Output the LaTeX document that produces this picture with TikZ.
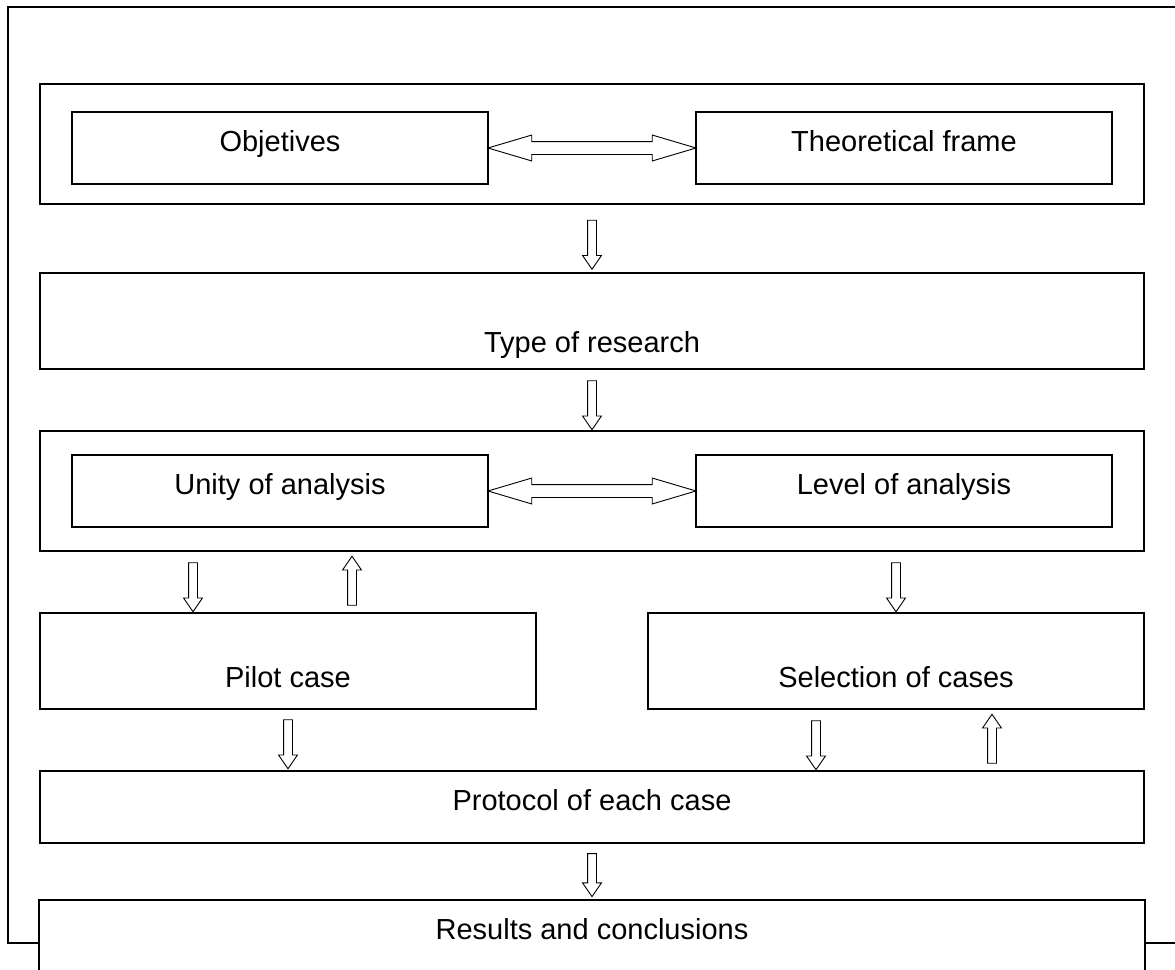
\documentclass[tikz,border=0pt]{standalone}
\usepackage{fontspec}
\setmainfont{Liberation Sans}
\usetikzlibrary{shapes.arrows, calc}

\begin{document}
\begin{tikzpicture}[x=1pt, y=-1pt,
    box/.style={draw, line width=1.6pt, inner sep=0pt, fill=white,
        text height=20pt, text depth=13pt, font=\fontsize{29}{34}\selectfont},
    low/.style={text height=#1, text depth=0pt},
    downarrow/.style={draw, line width=0.9pt, single arrow, rotate=-90,
        inner xsep=0pt, inner ysep=4pt, text height=0pt, text depth=0pt,
        minimum height=49, single arrow head extend=5, single arrow tip angle=69},
    uparrow/.style={downarrow, rotate=180},
    bothways/.style={draw, line width=0.9pt, double arrow,
        inner xsep=0pt, inner ysep=6pt, text height=0pt, text depth=0pt,
        minimum height=208, double arrow head extend=6.5, double arrow tip angle=33}]
    \useasboundingbox (0,0) rectangle (1175,969);
    \clip (0,0) rectangle (1175,969);
    % outer frame
    \draw[line width=1.6pt] (8,7) rectangle (1200,943);
    % first group
    \node[box, minimum width=1104, minimum height=120] (grp1) at (592,144) {};
    \node[box, minimum width=416, minimum height=72] (obj) at (280,148) {Objetives};
    \node[box, minimum width=416, minimum height=72] (theo) at (904,148) {Theoretical frame};
    \node[bothways] (d1) at ($(obj.east)!0.5!(theo.west)$) {};
    \node[box, low=62pt, minimum width=1104, minimum height=96] (type) at (592,321) {Type of research};
    % second group
    \node[box, minimum width=1104, minimum height=120] (grp2) at (592,491) {};
    \node[box, minimum width=416, minimum height=72] (unity) at (280,491) {Unity of analysis};
    \node[box, minimum width=416, minimum height=72] (level) at (904,491) {Level of analysis};
    \node[bothways] (d2) at ($(unity.east)!0.5!(level.west)$) {};
    \node[box, low=52pt, minimum width=496, minimum height=96] (pilot) at (288,661) {Pilot case};
    \node[box, low=52pt, minimum width=496, minimum height=96] (sel) at (896,661) {Selection of cases};
    \node[box, minimum width=1104, minimum height=72] (prot) at (592,807) {Protocol of each case};
    \node[box, draw=none, low=21pt, minimum width=1104, minimum height=56, anchor=north] (res) at (592,900) {Results and conclusions};
    \draw[line width=1.6pt] ([yshift=-30pt]res.south west) -- (res.north west)
        -- (res.north east) -- ([yshift=-30pt]res.south east);
    % block arrows
    \node[downarrow] (t1) at ($(grp1.south)!0.5!(type.north)+(0,3)$) {};
    \node[downarrow] (t2) at ($(type.south)!0.5!(grp2.north)+(0,2)$) {};
    \node[downarrow] (t3) at (193,584) {};
    \node[uparrow] (t4) at (352,584) {};
    \node[downarrow] (t5) at (896,584) {};
    \node[downarrow] (t6) at (288,741) {};
    \node[downarrow] (t7) at (816,742) {};
    \node[uparrow] (t8) at (992,742) {};
    \node[downarrow, minimum height=43] (t9) at ($(prot.south)!0.5!(res.north)$) {};
\end{tikzpicture}
\end{document}
